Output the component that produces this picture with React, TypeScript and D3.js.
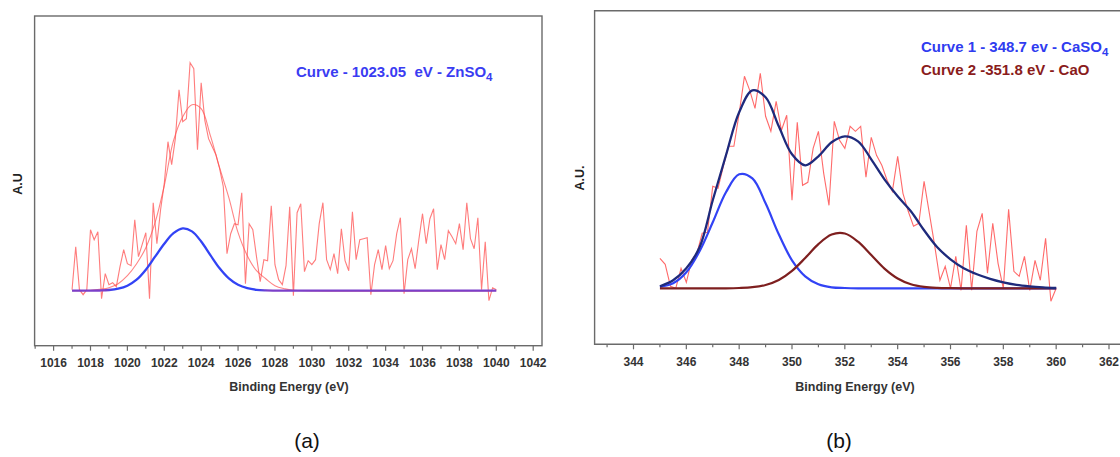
import React from 'react';
import * as d3 from 'd3';

// ---------- Panel (a) data ----------
const ticksA = [1016, 1018, 1020, 1022, 1024, 1026, 1028, 1030, 1032, 1034, 1036, 1038, 1040, 1042];
const rawAStart = 1017;
const rawAStep = 0.2;
const rawA = [
  1, 44, 1, -4, 1, 61, 51, 59, -8, 17,
  6, 8, 4, 24, 41, 27, 25, 71, 34, 46,
  58, -8, 88, 47, 81, 107, 149, 126, 152, 201,
  169, 172, 228, 222, 141, 208, 170, 152, 144, 136,
  122, 104, 37, 57, 67, 66, 98, 7, 67, 61,
  34, 9, 31, 30, 85, 26, 11, 6, 25, 84,
  -5, 78, 87, 19, 30, 26, 31, 67, 88, 31,
  21, 37, 17, 62, 30, 20, 79, 31, 51, 52,
  53, -4, 26, 41, 21, 45, 22, 30, 57, 73,
  -3, 31, 42, 22, 51, 77, 47, 72, 82, 21,
  46, 31, 60, 54, 47, 67, 41, 88, 52, 42,
  73, 1, 49, -10, 3, 1,
];
const fitAEnergy = [1017, 1017.5, 1018, 1018.5, 1019, 1019.5, 1020, 1020.5, 1021, 1021.5, 1022, 1022.5, 1023, 1023.5, 1024, 1024.5, 1025, 1025.5, 1026, 1026.5, 1027, 1027.5, 1028, 1028.5, 1029, 1040];
const fitAEnvelope = [0, 0, 0.5, 1.5, 3, 7, 15, 27, 43, 68, 105, 150, 174, 186, 182, 155, 123, 93, 58, 35, 20, 12, 5, 2, 0.5, 0];
const fitAZnSO4 = [0, 0, 0, 0.2, 0.7, 2, 5, 11, 21, 34, 47, 57.5, 62.3, 59.3, 49.2, 35.6, 22.4, 12.3, 5.9, 2.5, 0.9, 0.3, 0.1, 0, 0, 0];

// ---------- Panel (b) data ----------
const ticksB = [344, 346, 348, 350, 352, 354, 356, 358, 360, 362];
const rawBStart = 345;
const rawBStep = 0.2;
const rawB = [
  30, 24, 2, 0, 20, 6, 28, 35, 55, 56,
  102, 100, 122, 142, 142, 175, 212, 198, 180, 215,
  172, 157, 187, 158, 173, 88, 166, 103, 106, 140,
  157, 115, 83, 167, 148, 140, 162, 157, 162, 111,
  151, 133, 123, 108, 97, 132, 95, 77, 62, 65,
  107, 75, 43, 8, 22, 0, 32, -2, 63, -2,
  57, 75, 15, 65, 25, 0, 79, 17, 12, 32,
  -2, 28, 8, 50, -13, 0,
];
const fitBEnergy = [345, 345.5, 346, 346.5, 347, 347.5, 348, 348.5, 349, 349.5, 350, 350.5, 351, 351.5, 352, 352.5, 353, 353.5, 354, 354.5, 355, 355.5, 356, 356.5, 357, 357.5, 358, 358.5, 359, 359.5, 360];
const fitBEnvelope = [2, 8, 20, 41, 88, 133, 176, 198, 191, 162, 134, 123, 132, 146, 152, 147, 129, 109, 92, 77, 58, 41, 29, 20, 14, 9.5, 6, 3.5, 2, 1, 0.3];
const fitBCaSO4 = [1.5, 5, 16, 37, 66, 96, 114, 110, 85, 54, 28, 12, 4, 1, 0.3, 0, 0, 0, 0, 0, 0, 0, 0, 0, 0, 0, 0, 0, 0, 0, 0];
const fitBCaO = [0, 0, 0, 0, 0, 0, 0.3, 1.1, 3.3, 8.3, 17.4, 30.3, 44.2, 53.8, 54.8, 46.6, 33.2, 19.7, 9.8, 4, 1.4, 0.4, 0.1, 0, 0, 0, 0, 0, 0, 0, 0];

const FONT = '"Liberation Sans", Arial, Helvetica, sans-serif';

type Pt = [number, number];

export default function App() {
  // scales
  const xA = d3.scaleLinear().domain([1016, 1042]).range([53.6, 533.2]);
  const yA = d3.scaleLinear().domain([0, 100]).range([290.7, 190.7]);
  const xB = d3.scaleLinear().domain([344, 362]).range([633.5, 1109]);
  const yB = d3.scaleLinear().domain([0, 100]).range([288.3, 188.3]);

  const frameA = { x0: 34.6, y0: 16, x1: 542, y1: 345.7 };
  const frameB = { x0: 594.6, y0: 10.7, x1: 1130, y1: 344.3 };

  const minorA = d3.range(1015, 1042, 2);
  const minorB = d3.range(343, 362, 2);

  const rawAPts: Pt[] = rawA.map((v, i) => [rawAStart + i * rawAStep, v]);
  const rawBPts: Pt[] = rawB.map((v, i) => [rawBStart + i * rawBStep, v]);

  const lin = (xs: any, ys: any) =>
    d3.line<Pt>().x((d) => xs(d[0])).y((d) => ys(d[1])).curve(d3.curveLinear);
  const smooth = (xs: any, ys: any) =>
    d3.line<Pt>().x((d) => xs(d[0])).y((d) => ys(d[1])).curve(d3.curveCatmullRom.alpha(0.5));

  const zip = (e: number[], v: number[]): Pt[] => e.map((x, i) => [x, v[i]]);

  const pathRawA = lin(xA, yA)(rawAPts) || '';
  const pathEnvA = smooth(xA, yA)(zip(fitAEnergy, fitAEnvelope)) || '';
  const pathZnA = smooth(xA, yA)(zip(fitAEnergy, fitAZnSO4)) || '';

  const pathRawB = lin(xB, yB)(rawBPts) || '';
  const pathEnvB = smooth(xB, yB)(zip(fitBEnergy, fitBEnvelope)) || '';
  const pathCaSO4 = smooth(xB, yB)(zip(fitBEnergy, fitBCaSO4)) || '';
  const pathCaO = smooth(xB, yB)(zip(fitBEnergy, fitBCaO)) || '';

  const gx0 = xA(1017);
  const gx1 = xA(1040);
  const off = (e: number) => (xA(e) - gx0) / (gx1 - gx0);

  const purple = '#7b3fc9';
  const blue = '#3243f5';
  const rawRed = '#ff5050';
  const navy = '#1e2a7c';
  const brown = '#7e1f1f';
  const frameCol = '#6a6a6a';

  const tickLabel = (x: number, y: number, t: number, key: string) => (
    <text key={key} x={x} y={y} textAnchor="middle" fontFamily={FONT} fontWeight="bold" fontSize={12} fill="#333">
      {t}
    </text>
  );

  return (
    <svg width={1120} height={457} style={{ position: 'absolute', left: 0, top: 0, background: '#fff' }}>
      <defs>
        <linearGradient id="gA" gradientUnits="userSpaceOnUse" x1={gx0} x2={gx1} y1={0} y2={0}>
          <stop offset={0} stopColor={purple} />
          <stop offset={off(1018.8)} stopColor={purple} />
          <stop offset={off(1019.3)} stopColor={blue} />
          <stop offset={off(1027.0)} stopColor={blue} />
          <stop offset={off(1027.6)} stopColor={purple} />
          <stop offset={1} stopColor={purple} />
        </linearGradient>
        <clipPath id="clipB">
          <rect x={frameB.x0} y={frameB.y0} width={frameB.x1 - frameB.x0} height={frameB.y1 - frameB.y0} />
        </clipPath>
      </defs>

      {/* ---------------- Panel (a) ---------------- */}
      <rect x={frameA.x0} y={frameA.y0} width={frameA.x1 - frameA.x0} height={frameA.y1 - frameA.y0}
        fill="none" stroke={frameCol} strokeWidth={1.4} />
      {minorA.map((t) => (
        <line key={'ma' + t} x1={xA(t)} x2={xA(t)} y1={frameA.y1} y2={frameA.y1 + 3} stroke={frameCol} strokeWidth={1.2} />
      ))}
      {ticksA.map((t) => (
        <line key={'ta' + t} x1={xA(t)} x2={xA(t)} y1={frameA.y1} y2={frameA.y1 + 5} stroke={frameCol} strokeWidth={1.2} />
      ))}
      {ticksA.map((t) => tickLabel(xA(t), 366.5, t, 'la' + t))}

      <path d={pathRawA} fill="none" stroke={rawRed} strokeOpacity={0.75} strokeWidth={1.1} />
      <path d={pathEnvA} fill="none" stroke={rawRed} strokeOpacity={0.7} strokeWidth={1.1} />
      <path d={pathZnA} fill="none" stroke="url(#gA)" strokeWidth={2.3} />

      <text x={296} y={77} fontFamily={FONT} fontWeight="bold" fontSize={15} fill="#3a3cf2" style={{ whiteSpace: 'pre' }}>
        {'Curve - 1023.05  eV - ZnSO'}
        <tspan fontSize={11.5} dy={4}>4</tspan>
      </text>

      <text transform="translate(22,184) rotate(-90)" textAnchor="middle" fontFamily={FONT} fontWeight="bold" fontSize={12.5} fill="#222">
        A.U
      </text>
      <text x={289} y={391} textAnchor="middle" fontFamily={FONT} fontWeight="bold" fontSize={12.5} fill="#333">
        Binding Energy (eV)
      </text>
      <text x={307} y={448} textAnchor="middle" fontFamily={FONT} fontSize={21} fill="#111">
        (a)
      </text>

      {/* ---------------- Panel (b) ---------------- */}
      <path d={`M${frameB.x1},${frameB.y0}H${frameB.x0}V${frameB.y1}H${frameB.x1}`} fill="none" stroke={frameCol} strokeWidth={1.4} />
      {minorB.map((t) => (
        <line key={'mb' + t} x1={xB(t)} x2={xB(t)} y1={frameB.y1} y2={frameB.y1 + 3} stroke={frameCol} strokeWidth={1.2} />
      ))}
      {ticksB.map((t) => (
        <line key={'tb' + t} x1={xB(t)} x2={xB(t)} y1={frameB.y1} y2={frameB.y1 + 5} stroke={frameCol} strokeWidth={1.2} />
      ))}
      {ticksB.map((t) => tickLabel(xB(t), 365.5, t, 'lb' + t))}

      <g clipPath="url(#clipB)">
        <path d={pathRawB} fill="none" stroke={rawRed} strokeOpacity={0.85} strokeWidth={1.1} />
        <path d={pathCaSO4} fill="none" stroke={blue} strokeWidth={2.2} />
        <path d={pathCaO} fill="none" stroke={brown} strokeWidth={2.2} />
        <path d={pathEnvB} fill="none" stroke={navy} strokeWidth={2.3} />
      </g>

      <text x={921} y={52} fontFamily={FONT} fontWeight="bold" fontSize={15} fill="#2f3cf0">
        {'Curve 1 - 348.7 ev - CaSO'}
        <tspan fontSize={11.5} dy={4}>4</tspan>
      </text>
      <text x={921} y={75} fontFamily={FONT} fontWeight="bold" fontSize={15} fill="#8a1c1c">
        {'Curve 2 -351.8 eV - CaO'}
      </text>

      <text transform="translate(584,178) rotate(-90)" textAnchor="middle" fontFamily={FONT} fontWeight="bold" fontSize={12.5} fill="#222">
        A.U.
      </text>
      <text x={855} y={391} textAnchor="middle" fontFamily={FONT} fontWeight="bold" fontSize={12.5} fill="#333">
        Binding Energy (eV)
      </text>
      <text x={839} y={448} textAnchor="middle" fontFamily={FONT} fontSize={21} fill="#111">
        (b)
      </text>
    </svg>
  );
}
